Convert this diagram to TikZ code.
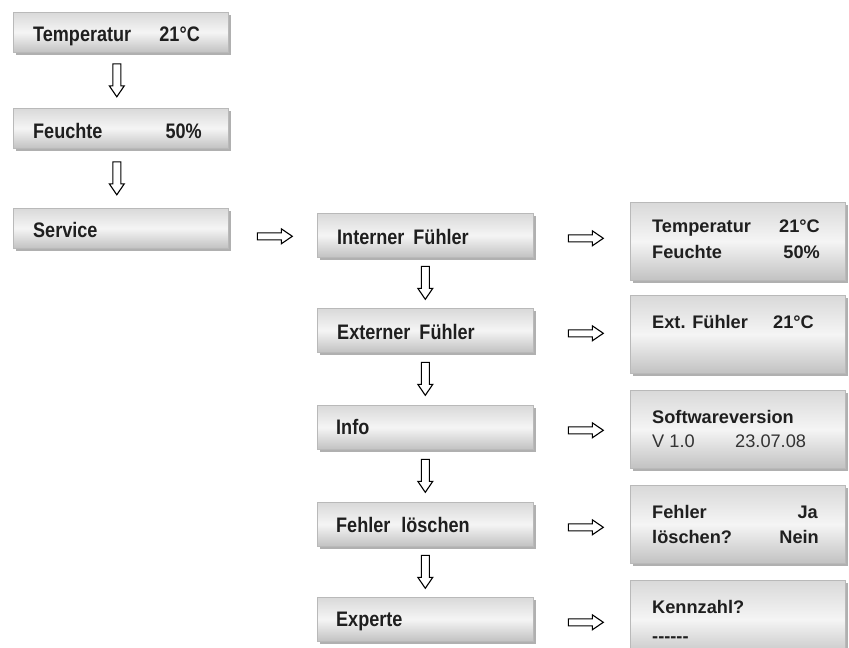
\documentclass[tikz,border=0pt]{standalone}
\usepackage{fontspec}
\setmainfont{Liberation Sans}
\newfontfamily\condsans[FakeStretch=0.86]{Liberation Sans}
\usetikzlibrary{shadows,calc}
\newcommand\myhyph{-\kern0pt}
\newcommand\mydnarrow[1]{%
  \draw[arr] ($(#1)+(-4,-16.5)$) -- ++(8,0) -- ++(0,22) -- ++(3.5,0)
    -- ($(#1)+(0,16.5)$) -- ($(#1)+(-7.5,5.5)$) -- ++(3.5,0) -- cycle;}
\newcommand\myrtarrow[1]{%
  \draw[arr] ($(#1)+(-17.5,-3.5)$) -- ++(24,0) -- ++(0,-4)
    -- ($(#1)+(17.5,0)$) -- ($(#1)+(6.5,7.5)$) -- ++(0,-4) -- ($(#1)+(-17.5,3.5)$) -- cycle;}
\tikzset{
  box/.style={draw=gray!55, line width=0.6pt, top color=gray!30, bottom color=gray!48,
    middle color=gray!8, minimum width=215pt, inner sep=0pt, anchor=north west,
    drop shadow={shadow xshift=3pt, shadow yshift=-3pt, fill=gray!62, opacity=1}},
  lbox/.style={box, minimum height=40pt},
  mbox/.style={box, minimum height=44pt, minimum width=216pt},
  rbox/.style={box, minimum height=78pt},
  txt/.style={font=\condsans\bfseries\fontsize{21}{24}\selectfont, text=black!88, inner sep=0pt, anchor=base west},
  txtr/.style={txt, anchor=base east},
  rtxt/.style={txt, font=\bfseries\fontsize{18.2}{21}\selectfont},
  rtxtr/.style={rtxt, anchor=base east},
  ntxt/.style={txt, font=\mdseries\fontsize{18.2}{21}\selectfont, text=black!80},
  arr/.style={draw=black, line width=1.1pt, fill=white, line join=miter},
}
\begin{document}
\begin{tikzpicture}[x=1pt, y=-1pt]
\useasboundingbox (0,0) rectangle (849,648);
% left column
\node[lbox] (L1) at (13,12) {};
\node[lbox] (L2) at (13,108) {};
\node[lbox] (L3) at (13,208) {};
% middle column
\node[mbox] (M1) at (317,213) {};
\node[mbox] (M2) at (317,308) {};
\node[mbox] (M3) at (317,405) {};
\node[mbox] (M4) at (317,502) {};
\node[mbox] (M5) at (317,597) {};
% right column
\node[rbox] (R1) at (630,202) {};
\node[rbox] (R2) at (630,295) {};
\node[rbox] (R3) at (630,390) {};
\node[rbox] (R4) at (630,485) {};
\node[rbox] (R5) at (630,580) {};
% texts left
\node[txt]  (L1a) at ($(L1.north west)+(20,29)$) {Temperatur};
\node[txtr] (L1b) at ($(L1.north west)+(187,29)$) {21°C};
\node[txt]  (L2a) at ($(L2.north west)+(20,30)$) {Feuchte};
\node[txtr] (L2b) at ($(L2.north west)+(189,30)$) {50\%};
\node[txt]  (L3a) at ($(L3.north west)+(20,29)$) {Service};
% texts middle
\node[txt] (M1a) at ($(M1.north west)+(20,31)$) {Interner\hspace{9pt}Fühler};
\node[txt] (M2a) at ($(M2.north west)+(20,31)$) {Externer\hspace{9pt}Fühler};
\node[txt] (M3a) at ($(M3.north west)+(19,29)$) {Info};
\node[txt] (M4a) at ($(M4.north west)+(19,30)$) {Fehler\hspace{11pt}löschen};
\node[txt] (M5a) at ($(M5.north west)+(19,29)$) {Experte};
% texts right
\node[rtxt]  (R1a) at ($(R1.north west)+(22,30)$) {Temperatur};
\node[rtxtr] (R1b) at ($(R1.north west)+(190,30)$) {21°C};
\node[rtxt]  (R1c) at ($(R1.north west)+(22,56)$) {Feuchte};
\node[rtxtr] (R1d) at ($(R1.north west)+(190,56)$) {50\%};
\node[rtxt]  (R2a) at ($(R2.north west)+(22,33)$) {Ext. Fühler};
\node[rtxt]  (R2b) at ($(R2.north west)+(143,33)$) {21°C};
\node[rtxt]  (R3a) at ($(R3.north west)+(22,33)$) {Softwareversion};
\node[ntxt]  (R3b) at ($(R3.north west)+(22,57)$) {V 1.0};
\node[ntxt]  (R3c) at ($(R3.north west)+(105,57)$) {23.07.08};
\node[rtxt]  (R4a) at ($(R4.north west)+(22,33)$) {Fehler};
\node[rtxtr] (R4b) at ($(R4.north west)+(188,33)$) {Ja};
\node[rtxt]  (R4c) at ($(R4.north west)+(22,58)$) {löschen?};
\node[rtxtr] (R4d) at ($(R4.north west)+(189,58)$) {Nein};
\node[rtxt]  (R5a) at ($(R5.north west)+(22,33)$) {Kennzahl?};
\node[rtxt]  (R5b) at ($(R5.north west)+(22,62)$) {\myhyph\myhyph\myhyph\myhyph\myhyph-};
% down arrows left
\coordinate (dl1) at ($($(L1.south)!0.5!(L2.north)$)+(-4,0)$);
\coordinate (dl2) at ($($(L2.south)!0.5!(L3.north)$)+(-4,0)$);
\mydnarrow{dl1}
\mydnarrow{dl2}
% down arrows middle
\coordinate (dm1) at ($(M1.south)!0.5!(M2.north)$);
\coordinate (dm2) at ($(M2.south)!0.5!(M3.north)$);
\coordinate (dm3) at ($(M3.south)!0.5!(M4.north)$);
\coordinate (dm4) at ($(M4.south)!0.5!(M5.north)$);
\mydnarrow{dm1}
\mydnarrow{dm2}
\mydnarrow{dm3}
\mydnarrow{dm4}
% right arrows
\coordinate (rx0) at ($(L3.east)!0.5!(M1.west)$);
\coordinate (r0) at ($(rx0 |- M1.west)+(2,1)$);
\myrtarrow{r0}
\foreach \i in {1,...,5}{
  \coordinate (rx\i) at ($(M\i.east)!0.5!(R\i.west)$);
  \coordinate (r\i) at ($(rx\i |- M\i.west)+(4,3)$);
  \myrtarrow{r\i}
}
\end{tikzpicture}
\end{document}
